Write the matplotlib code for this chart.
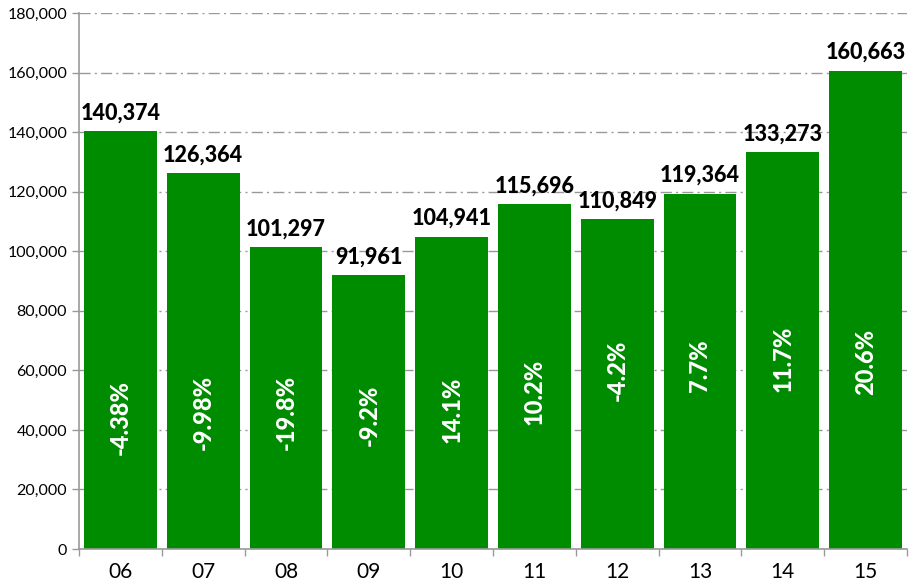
import matplotlib
matplotlib.use("Agg")
import matplotlib.pyplot as plt
from matplotlib.ticker import FuncFormatter, FixedLocator

years = ["06", "07", "08", "09", "10", "11", "12", "13", "14", "15"]
values = [140374, 126364, 101297, 91961, 104941, 115696, 110849, 119364, 133273, 160663]
changes = ["-4.38%", "-9.98%", "-19.8%", "-9.2%", "14.1%", "10.2%", "-4.2%", "7.7%", "11.7%", "20.6%"]
# layout: vertical anchor (in axis units) of the rotated percentage labels
pct_label_y = [44000, 46000, 46000, 45000, 46700, 52700, 60100, 61500, 63800, 62800]

plt.rcParams['font.family'] = ['Lato', 'DejaVu Sans']

fig = plt.figure(figsize=(9.11, 5.88), dpi=100)
ax = fig.add_axes([0.0867, 0.0663, 0.9089, 0.9116])

x = list(range(len(years)))
ax.bar(x, values, width=0.88, color="#008C00", zorder=2)

for i, (v, c, py) in enumerate(zip(values, changes, pct_label_y)):
    ax.text(i, v + 2500, f"{v:,}", ha="center", va="bottom", fontsize=15.5,
            fontweight="black", color="black", zorder=3)
    ax.text(i, py, c, ha="center", va="center", rotation=90, fontsize=17,
            fontweight="black", color="white", zorder=3)

ax.set_xlim(-0.5, len(years) - 0.5)
ax.set_ylim(0, 180000)
ax.set_yticks(range(0, 180001, 20000))
ax.yaxis.set_major_formatter(FuncFormatter(lambda v, p: f"{int(v):,}"))
ax.grid(axis="y", color="#999999", linestyle=(0, (8, 3, 1.5, 3)), linewidth=1, zorder=0)

ax.set_xticks(x)
ax.set_xticklabels(years, fontsize=15)
ax.tick_params(axis="x", which="major", length=0, pad=9)
ax.xaxis.set_minor_locator(FixedLocator([i + 0.5 for i in range(-1, len(years))]))
ax.tick_params(axis="x", which="minor", length=5, color="#999999", width=1)
ax.tick_params(axis="y", length=5, color="#999999", width=1, labelsize=11.5)

for s in ["top", "right"]:
    ax.spines[s].set_visible(False)
for s in ["left", "bottom"]:
    ax.spines[s].set_color("#999999")
    ax.spines[s].set_linewidth(1.2)

fig.savefig("out.png", dpi=100)
